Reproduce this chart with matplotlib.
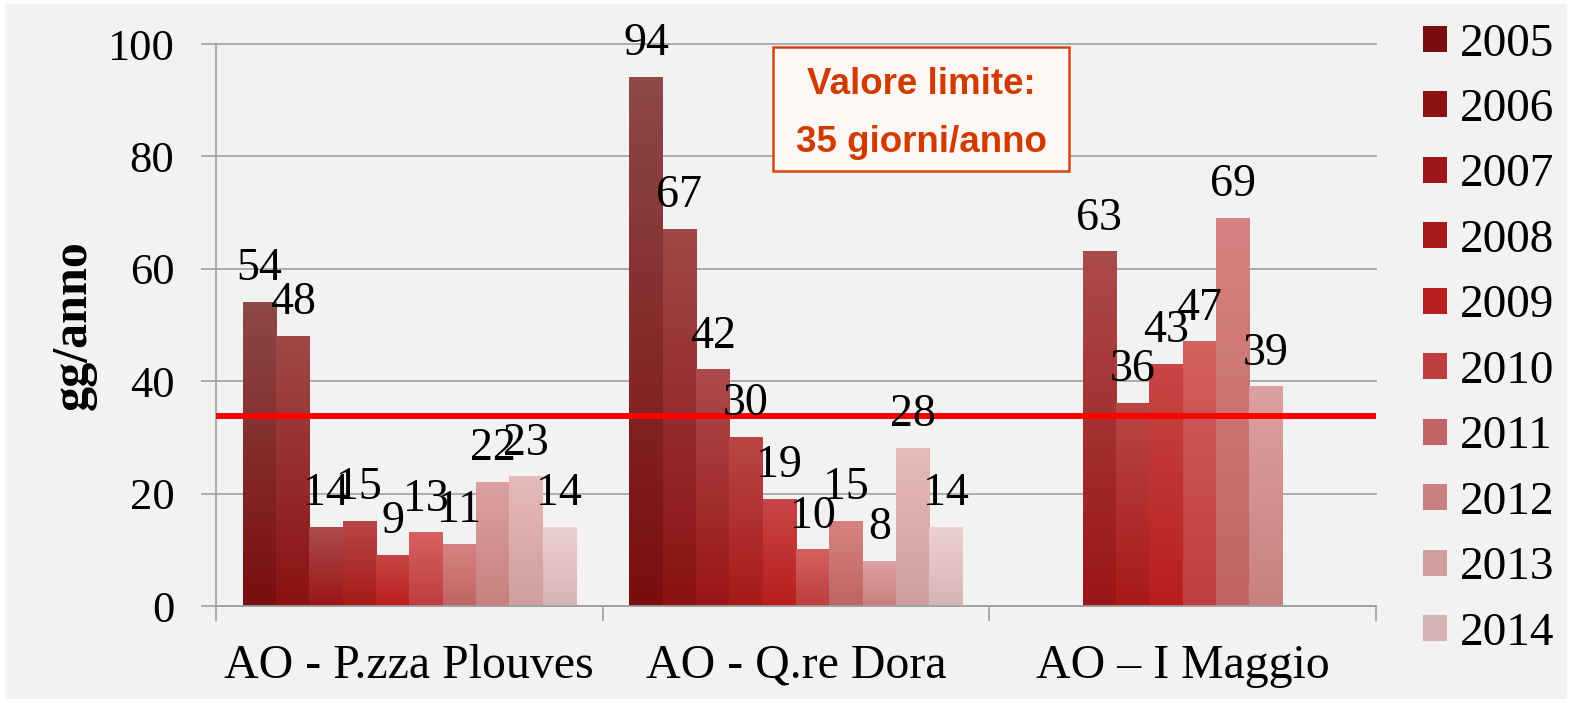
import numpy as np
import matplotlib.pyplot as plt
from matplotlib.colors import LinearSegmentedColormap
from matplotlib.patches import Patch, Rectangle

# dati: giorni di superamento per anno
stations = ['AO - P.zza Plouves', 'AO - Q.re Dora', 'AO \u2013 I Maggio']
years = ['2005', '2006', '2007', '2008', '2009', '2010', '2011', '2012', '2013', '2014']
plouves = [54, 48, 14, 15, 9, 13, 11, 22, 23, 14]
qre_dora = [94, 67, 42, 30, 19, 10, 15, 8, 28, 14]
i_maggio = [np.nan, np.nan, 63, 36, 43, 47, 69, 39, np.nan, np.nan]
limite = 33.8

top_colors = ['#8e4848', '#a04848', '#ac4b4b', '#b94646', '#c84646',
              '#d66060', '#d78282', '#dca0a0', '#e6baba', '#ecd0d0']
bottom_colors = ['#7a0e0e', '#8c1212', '#9b1616', '#a81a1a', '#b91e1e',
                 '#be3e3e', '#c06464', '#c88080', '#d09e9e', '#d7b4b4']

plt.rcParams['font.family'] = ['Liberation Serif', 'DejaVu Serif']

W, H = 1572, 703
fig = plt.figure(figsize=(W / 100, H / 100), dpi=100, facecolor='white')
fig.patches.append(Rectangle((5 / W, 4 / H), 1 - 10 / W, 1 - 8 / H, transform=fig.transFigure,
                             facecolor='#f2f2f2', edgecolor='none', zorder=-10))

ax = fig.add_axes([216 / W, 1 - 606 / H, 1160 / W, 562 / H])
ax.set_facecolor('#f2f2f2')

data = [plouves, qre_dora, i_maggio]
x = np.arange(len(stations))
w = 0.0862

for j, year in enumerate(years):
    vals = [d[j] for d in data]
    bars = ax.bar(x + (j - 4.5) * w, vals, w, color=bottom_colors[j], zorder=2)
    cmap = LinearSegmentedColormap.from_list('c%d' % j, [bottom_colors[j], top_colors[j]])
    grad = np.linspace(0, 1, 64).reshape(-1, 1)
    for b, v in zip(bars, vals):
        if np.isnan(v):
            continue
        x0 = b.get_x()
        ax.imshow(grad, origin='lower', cmap=cmap, aspect='auto', zorder=2.5,
                  extent=[x0, x0 + b.get_width(), 0, b.get_height()])
        ax.annotate('%d' % v, (x0 + b.get_width() / 2, v), xytext=(0, 16),
                    textcoords='offset points', ha='center', va='baseline',
                    fontsize=33, zorder=5)

ax.axhline(limite, color='#ff0000', lw=4.3, zorder=4)

ax.set_xlim(-0.5, 2.5)
ax.set_ylim(0, 100)
ax.set_yticks([0, 20, 40, 60, 80, 100])
ax.set_xticks(x)
ax.set_xticklabels(stations)
ax.set_xticks([-0.5, 0.5, 1.5, 2.5], minor=True)
ax.tick_params(axis='x', which='major', length=0, pad=27, labelsize=34.5)
ax.tick_params(axis='x', which='minor', length=11, width=1.2, color='#a0a0a0')
ax.tick_params(axis='y', length=11, width=1.2, color='#a0a0a0', pad=19, labelsize=32)

ax.yaxis.grid(True, color='#a0a0a0', lw=1.2)
for l in ax.get_ygridlines():
    l.set_clip_on(False)
ax.set_axisbelow(True)
for s in ['top', 'right']:
    ax.spines[s].set_visible(False)
for s in ['left', 'bottom']:
    ax.spines[s].set_color('#a0a0a0')
    ax.spines[s].set_linewidth(1.2)

fig.text(74 / W, 1 - 325 / H, 'gg/anno', rotation=90, fontsize=36, fontweight='bold',
         ha='center', va='center')

# riquadro valore limite
fig.patches.append(Rectangle((773 / W, 1 - 171 / H), 296 / W, 124 / H, transform=fig.transFigure,
                             facecolor='#fdf7f6', edgecolor='#d64510', lw=1.8, zorder=3))
fig.text(921 / W, 1 - 94 / H, 'Valore limite:', family='Liberation Sans', fontweight='bold',
         fontsize=26.5, color='#d13b00', ha='center', va='baseline', zorder=4)
fig.text(921 / W, 1 - 152 / H, '35 giorni/anno', family='Liberation Sans', fontweight='bold',
         fontsize=26.5, color='#d13b00', ha='center', va='baseline', zorder=4)

handles = [Patch(facecolor=c) for c in bottom_colors]
fig.legend(handles, years, loc='upper left', bbox_to_anchor=(1423 / W, 1 - 23 / H),
           frameon=False, fontsize=34, handlelength=0.51, handleheight=0.47,
           handletextpad=0.27, labelspacing=0.487, borderpad=0, borderaxespad=0)

fig.savefig('out.png', dpi=100, facecolor='white')
